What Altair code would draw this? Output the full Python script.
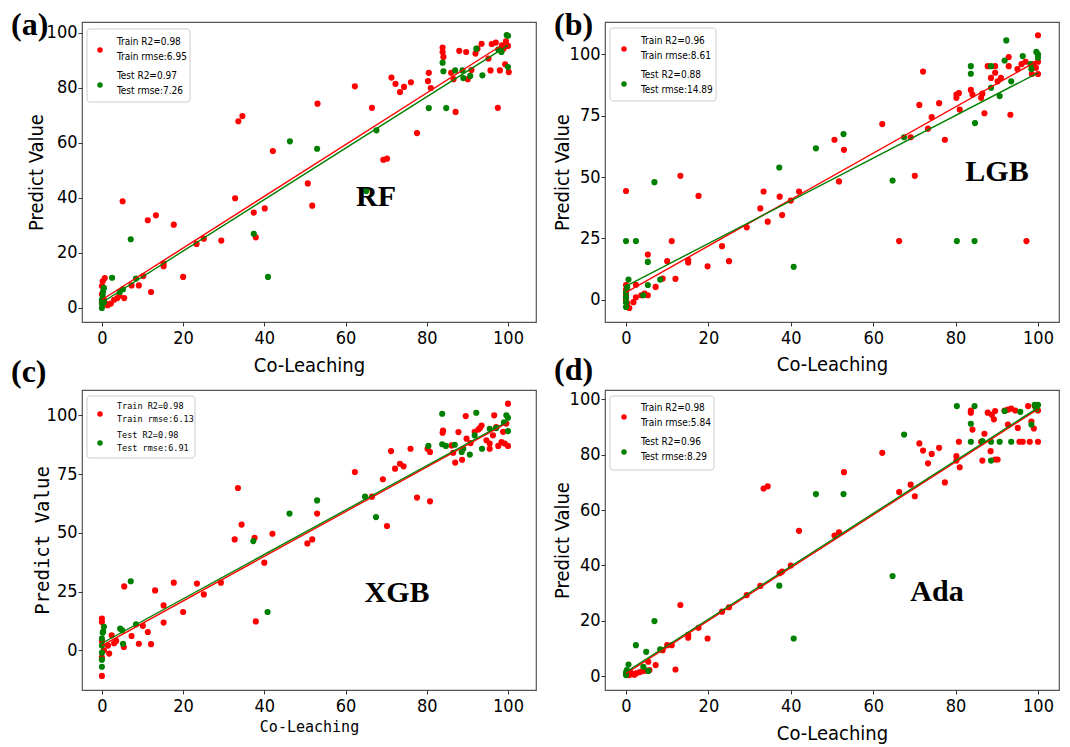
import altair as alt
import pandas as pd

# ---------------- data ----------------
# (a) RF
rf_train_x = [0, 0, 0, 0.2, 0.5, 0.7, 1, 1.4, 2.2, 3, 3.8, 4.3, 5.5, 5.1, 7.3, 9.1, 10.2, 11.3, 12.1, 13.3, 15.2, 15.2,
              17.7, 20, 23.3, 25.1, 29.4, 32.8, 33.6, 34.6, 37.4, 37.9, 40.1, 42.1, 50.7, 51.8, 53.1, 62.3, 66.5, 69.3,
              70.2, 71.3, 72.3, 73.4, 74.4, 76.1, 77.6, 80.3, 80.5, 81, 83.9, 83.9, 84.1, 86, 86.6, 87.1, 88, 89.7,
              90.1, 91, 92.5, 93.5, 92, 95.2, 95.7, 96, 97, 97.5, 98, 98.5, 98.9, 99.3, 100, 100.2, 99.5]
rf_train_y = [2, 5, 8, 9.7, 3, 10.9, 1.5, 1, 1.6, 3, 3.6, 4.5, 3.6, 38.8, 8.2, 8.2, 11.6, 31.9, 5.8, 33.7, 15.2, 16.2,
              30.3, 11.3, 23.3, 25.2, 24.5, 39.9, 67.9, 69.8, 34.7, 25.7, 36.2, 57.1, 45.3, 37.2, 74.3, 80.6, 72.8, 53.9,
              54.3, 83.8, 81.5, 78.5, 80.4, 82.1, 63.6, 82.5, 85.5, 80, 94.7, 93.1, 91.3, 85.5, 83.2, 71.3, 93.5, 93.1,
              83.2, 86.5, 94.3, 96.1, 92.5, 90.7, 86.4, 96, 96.5, 72.8, 86.4, 95.5, 94.3, 88.6, 95.3, 85.8, 97]
rf_test_x = [0, 0, 0, 0.2, 0.3, 0.5, 0.5, 2.5, 4.4, 5.2, 7.1, 8.4, 37.4, 40.9, 46.3, 53, 65.1, 67.6, 80.5, 84.8, 83.9,
             84.1, 87, 88.8, 89, 90.7, 92.2, 93.7, 97.6, 98.4, 99.7, 100, 100]
rf_test_y = [0, 1.5, 3, 4.5, 6, 7.3, 2, 11, 5.8, 6.8, 25, 10.7, 27, 11.3, 60.6, 57.9, 42.5, 64.6, 72.7, 72.7, 89.2,
             86.1, 86.4, 86.4, 83.6, 84.4, 94.3, 84.6, 94, 93.1, 99.2, 99, 87.6]
rf_fit_train = [3, 97]
rf_fit_test = [2, 95.5]

# (b) LGB
lgb_train_x = [0, 0, 0, 0, 0, 0.3, 0.8, 1.8, 2.4, 3.7, 5.3, 4.5, 2.4, 7.2, 8.9, 12, 5.3, 10, 11.1, 13.2, 15.1, 15.1,
               17.6, 19.8, 23.3, 25, 29.3, 32.6, 33.4, 34.4, 37.3, 37.9, 40, 42, 50.6, 51.7, 52.9, 62.2, 66.3, 69.1,
               70.1, 71.2, 72.1, 73.3, 74.2, 76, 77.4, 80.2, 80.2, 80.8, 81, 83.7, 84.1, 86.2, 86.5, 87, 87.8, 88.6,
               89.6, 89.6, 90.2, 91, 92.9, 92.9, 93.3, 95, 96, 97.2, 97, 98.5, 99, 99.5, 100, 100, 100]
lgb_train_y = [44.3, 0, 2, 4, 6, -1.5, -3.4, -1, 1, 1.8, 1.8, 2.5, 6.1, 5.2, 8.6, 8.5, 18.4, 15.7, 23.9, 50.5, 16.1, 15.2,
               42.3, 13.6, 21.8, 15.7, 29.5, 37.2, 44.1, 31.8, 42, 34.5, 40.4, 44.1, 65.2, 48.2, 61.1, 71.6, 23.9, 66.2,
               50.5, 79.4, 93, 69.7, 74.4, 80.1, 65.2, 83.6, 82.3, 84.2, 77.5, 85.5, 83.6, 82.3, 84, 76, 95.2, 90.4,
               95.2, 92.5, 89, 90.4, 95.2, 98.9, 75.4, 94, 96, 23.9, 97, 92, 96, 94.5, 92, 107.8, 97]
lgb_test_x = [0, 0, 0, 0, 0, 0.3, 0.6, 2.4, 4.2, 5.3, 5.3, 6.9, 8.3, 37.2, 40.7, 46.1, 52.8, 64.7, 67.5, 80.3, 84.6,
              83.7, 83.7, 84.7, 88.6, 88.6, 90.7, 92.3, 91.9, 93.5, 96.3, 98.2, 98.4, 99.6, 100, 100]
lgb_test_y = [23.9, -3, -1, 1, 3, 5, 8.2, 23.9, 1.8, 15.4, 6, 47.9, 8.2, 53.9, 13.4, 61.7, 67.5, 48.6, 66.2, 23.9, 23.9,
              95.2, 92.1, 72, 95.2, 86.4, 83, 105.7, 97.5, 89, 99.3, 96, 94, 101, 98.6, 100]
lgb_fit_train = [3, 97.5]
lgb_fit_test = [5.5, 92.5]

# (c) XGB
xgb_train_x = [0, 0, 0, 0, 0, 0.5, 1.8, 1.5, 2.4, 3, 3.5, 5.4, 5.5, 7.3, 9.1, 10.1, 11.3, 12.1, 13.1, 15.2, 15.2, 17.7,
               20, 23.4, 25.1, 29.3, 32.7, 33.5, 34.4, 37.6, 37.9, 40, 42, 50.6, 51.8, 53, 62.3, 66.5, 69.2, 70.2,
               71.2, 72.2, 73.4, 74.3, 76, 77.6, 80.2, 80.8, 80.8, 83.9, 84, 86.1, 86.5, 87, 87.8, 88.7, 89.6, 89.8,
               90.8, 91.8, 92.7, 93.1, 93.5, 94.7, 95.5, 95.5, 96.3, 96.6, 97.1, 97.6, 98.4, 99.2, 100, 100, 99.6, 98.8]
xgb_train_y = [-10.9, 13.5, 12, 4, -3, 0, -1.4, 2, 6.4, 3, 4, 1.4, 27.2, 6.1, 2.8, 10.4, 7.8, 2.6, 25.5, 11.8, 19.1, 28.8,
               16.3, 28.4, 23.8, 28.8, 47.2, 69.1, 53.5, 47.9, 12.3, 37.3, 49.6, 45.5, 47.2, 58.2, 75.9, 65.4, 72.8, 52.9,
               84.8, 77.3, 79.4, 78.3, 85.8, 65, 85.8, 84.4, 63.4, 92.6, 93.5, 87.2, 84.1, 79.9, 92.9, 81.1, 99.7, 90.1,
               88.2, 93, 94, 94.6, 95.7, 89.4, 88, 85.8, 91.5, 100, 95, 87, 88.6, 88, 87, 105, 96.5, 93]
xgb_test_x = [0, 0, 0, 0, 0, 0.3, 0.5, 0.2, 4.5, 5, 5.2, 7.1, 8.4, 37.3, 40.8, 46.2, 53, 64.8, 67.5, 80.4, 83.8, 83.8,
              84.7, 86.9, 88.6, 89, 90.6, 92.2, 91.8, 93.6, 95.5, 97.1, 99, 99.6, 100, 100]
xgb_test_y = [-7, -4, -1, 2, 5, 8, 10, 7.5, 9.2, 8.5, 2.8, 29.4, 11.1, 46.5, 16.3, 58.2, 63.8, 65.4, 56.7, 87, 100.7, 87.7,
              87, 87.5, 84.4, 85.8, 83.3, 101.1, 91.5, 85.8, 94.3, 94.6, 97, 100, 99, 93.3]
xgb_fit_train = [2, 97]
xgb_fit_test = [3, 97.5]

# (d) Ada
ada_train_x = [0.8, 1.5, 2.4, 3.2, 4, 4.9, 5.7, 1, 2, 5.4, 7.2, 8.9, 10, 11.1, 12, 13.2, 15.1, 15.1, 17.6, 19.8, 23.3,
               25, 29.3, 32.6, 33.4, 34.4, 37.3, 37.9, 40, 42, 50.6, 51.7, 52.9, 62.2, 66.3, 69.1, 70.1, 71.2, 72.1,
               73.3, 74.2, 76, 77.4, 80.2, 80.2, 80.8, 81, 83.7, 83.7, 84.1, 86.2, 86.5, 87, 87.8, 88.5, 88.8, 89.3,
               89.6, 90.2, 89.6, 92.7, 91.9, 92.7, 93.5, 95.1, 95.5, 96.3, 98, 100, 98.4, 99, 97.6, 99.2, 100, 94.5]
ada_train_y = [0.4, 0.8, 1, 1.4, 1.8, 2, 2.2, 1.5, 0.5, 5.2, 4, 9.4, 11.2, 11.2, 2.4, 25.7, 14.9, 13.9, 17.5, 13.6, 23.3,
               24.9, 29.3, 32.6, 67.8, 68.6, 37.2, 37.8, 40, 52.5, 50.8, 52, 73.7, 80.7, 66.5, 69.2, 65, 84.1, 81.5,
               76.9, 80.3, 82.5, 70, 79.5, 77.9, 84.7, 75.5, 96, 95.2, 89.1, 84.7, 77.9, 87.6, 95.2, 81.3, 94.5, 92.8,
               78.3, 78.3, 95.8, 90.9, 96, 96.3, 96.7, 89.7, 84.7, 84.7, 84.7, 84.7, 92, 89.5, 97.6, 97.6, 96, 96]
ada_test_x = [0, 0, 0.2, 0.6, 2.4, 4.2, 4.9, 5.4, 6.9, 8.3, 37.2, 40.7, 46.1, 52.8, 64.7, 67.5, 80.3, 84.6, 83.7, 83.7,
              86.5, 88.6, 90.7, 88.6, 91.9, 93.5, 95.7, 98.4, 99.2, 100, 99.6]
ada_test_y = [0.4, 1.3, 2.2, 4.2, 11.2, 3.4, 8.8, 1.9, 19.9, 9.7, 32.7, 13.6, 65.8, 65.8, 36.2, 87.3, 97.6, 97.6, 91.2,
              84.7, 84.9, 84.7, 84.7, 77.9, 95.8, 84.7, 95.5, 90.9, 98, 98, 96.5]
ada_fit_train = [1, 96.5]
ada_fit_test = [1.5, 97]

fit_x = [0, 100]

# ---------------- styling ----------------
RED = "#ff0000"
GREEN = "#008000"
SANS = "DejaVu Sans Condensed, DejaVu Sans, sans-serif"
MONO = "DejaVu Sans Mono, Liberation Mono, monospace"
SERIF = "Liberation Serif, Times New Roman, serif"
W, H = 454, 300


def txt(s, x, y, font, size, weight="normal", align="left", baseline="alphabetic"):
    return alt.Chart(pd.DataFrame({"_": [0]})).mark_text(
        font=font, fontSize=size, fontWeight=weight, align=align, baseline=baseline, color="black"
    ).encode(x=alt.value(x), y=alt.value(y), text=alt.value(s))


def dot(x, y, color):
    return alt.Chart(pd.DataFrame({"_": [0]})).mark_circle(size=30, opacity=1, color=color).encode(
        x=alt.value(x), y=alt.value(y))


def panel(trx, tr_y, tex, te_y, fit_tr, fit_te, xdom, ydom, yticks, leg, leg_font, leg_size,
          model, model_pos, label, label_pos, title_font, xt_size, xt_y, yt_size, yt_x):
    pts = pd.DataFrame({
        "x": trx + tex,
        "y": tr_y + te_y,
        "set": ["Train"] * len(trx) + ["Test"] * len(tex),
    })
    fits = pd.DataFrame({
        "x": fit_x + fit_x,
        "y": fit_tr + fit_te,
        "set": ["Train", "Train", "Test", "Test"],
    })
    xs = alt.Scale(domain=xdom, nice=False, zero=False)
    ys = alt.Scale(domain=ydom, nice=False, zero=False)
    xaxis = alt.Axis(values=[0, 20, 40, 60, 80, 100], grid=False, domain=False, tickSize=4, tickColor="#333",
                     labelFont=SANS, labelFontSize=18, labelColor="black", labelPadding=3,
                     title="Co-Leaching", titleFont=title_font, titleFontSize=xt_size, titleFontWeight="normal",
                     titleColor="black", titleY=xt_y, titleBaseline="alphabetic")
    yaxis = alt.Axis(values=yticks, grid=False, domain=False, tickSize=4, tickColor="#333",
                     labelFont=SANS, labelFontSize=18, labelColor="black", labelPadding=1,
                     title="Predict Value", titleFont=title_font, titleFontSize=yt_size, titleFontWeight="normal",
                     titleColor="black", titleX=yt_x, titleBaseline="alphabetic")
    color = alt.Color("set:N", scale=alt.Scale(domain=["Train", "Test"], range=[RED, GREEN]), legend=None)

    points = alt.Chart(pts).mark_circle(size=38, opacity=1).encode(
        x=alt.X("x:Q", scale=xs, axis=xaxis),
        y=alt.Y("y:Q", scale=ys, axis=yaxis),
        color=color,
    )
    lines = alt.Chart(fits).mark_line(strokeWidth=1.4).encode(
        x=alt.X("x:Q", scale=xs, axis=xaxis),
        y=alt.Y("y:Q", scale=ys, axis=yaxis),
        color=color,
        detail="set:N",
    )
    bx0, bx1, by0, by1, dx, rdy, gdy, tx, b1, b2, b3, b4 = leg["geom"]
    box = alt.Chart(pd.DataFrame({"_": [0]})).mark_rect(
        fill="white", fillOpacity=0.85, stroke="#cccccc", strokeWidth=1, cornerRadius=3
    ).encode(x=alt.value(bx0), x2=alt.value(bx1), y=alt.value(by0), y2=alt.value(by1))
    layers = [points, lines, box,
              dot(dx, rdy, RED), dot(dx, gdy, GREEN),
              txt(leg["lines"][0], tx, b1, leg_font, leg_size),
              txt(leg["lines"][1], tx, b2, leg_font, leg_size),
              txt(leg["lines"][2], tx, b3, leg_font, leg_size),
              txt(leg["lines"][3], tx, b4, leg_font, leg_size),
              txt(model, model_pos[0], model_pos[1], SERIF, 30, "bold", "center"),
              txt(label, label_pos[0], label_pos[1], SERIF, 32, "bold", "left", "top")]
    return alt.layer(*layers).properties(width=W, height=H)


pa = panel(rf_train_x, rf_train_y, rf_test_x, rf_test_y, rf_fit_train, rf_fit_test,
           [-4.9, 106.9], [-5.1, 104], [0, 20, 40, 60, 80, 100],
           {"geom": (5, 108, 7, 80, 18, 28, 63, 35, 23, 37.5, 57, 71.5),
            "lines": ["Train R2=0.98", "Train rmse:6.95", "Test R2=0.97", "Test rmse:7.26"]},
           SANS, 10, "RF", (294, 184), "(a)", (-71, -12), SANS, 20, 49, 20, -40)
pb = panel(lgb_train_x, lgb_train_y, lgb_test_x, lgb_test_y, lgb_fit_train, lgb_fit_test,
           [-5.1, 105.1], [-9.1, 113.2], [0, 25, 50, 75, 100],
           {"geom": (5, 111, 6, 79, 19, 27, 62, 36, 22, 36.5, 56, 70.5),
            "lines": ["Train R2=0.96", "Train rmse:8.61", "Test R2=0.88", "Test rmse:14.89"]},
           SANS, 10, "LGB", (392, 159), "(b)", (-51, -12), SANS, 20, 48, 20, -37)
pc = panel(xgb_train_x, xgb_train_y, xgb_test_x, xgb_test_y, xgb_fit_train, xgb_fit_test,
           [-4.9, 106.9], [-16.9, 110.8], [0, 25, 50, 75, 100],
           {"geom": (5, 113, 6, 68, 18, 24, 53, 35, 19, 31.5, 48, 61),
            "lines": ["Train R2=0.98", "Train rmse:6.13", "Test R2=0.98", "Test rmse:6.91"]},
           MONO, 8.5, "XGB", (315, 212), "(c)", (-71, -33), MONO, 15, 41, 19, -34)
pd_ = panel(ada_train_x, ada_train_y, ada_test_x, ada_test_y, ada_fit_train, ada_fit_test,
            [-5.1, 105.1], [-5, 103.4], [0, 20, 40, 60, 80, 100],
            {"geom": (5, 109, 6, 80, 19, 27, 62, 36, 20.5, 35.5, 55, 70),
             "lines": ["Train R2=0.98", "Train rmse:5.84", "Test R2=0.96", "Test rmse:8.29"]},
            SANS, 10, "Ada", (332, 211), "(d)", (-51, -35), SANS, 20, 49, 20, -37)

chart = alt.concat(pa, pb, pc, pd_, columns=2, spacing={"row": 68, "column": 69}, bounds="flush").properties(
    padding={"left": 10, "top": 8, "right": 5, "bottom": 5},
    background="white",
).configure_view(stroke="#555555", strokeWidth=1.2)

chart.save("out.html", embed_options={"renderer": "svg", "actions": False})
